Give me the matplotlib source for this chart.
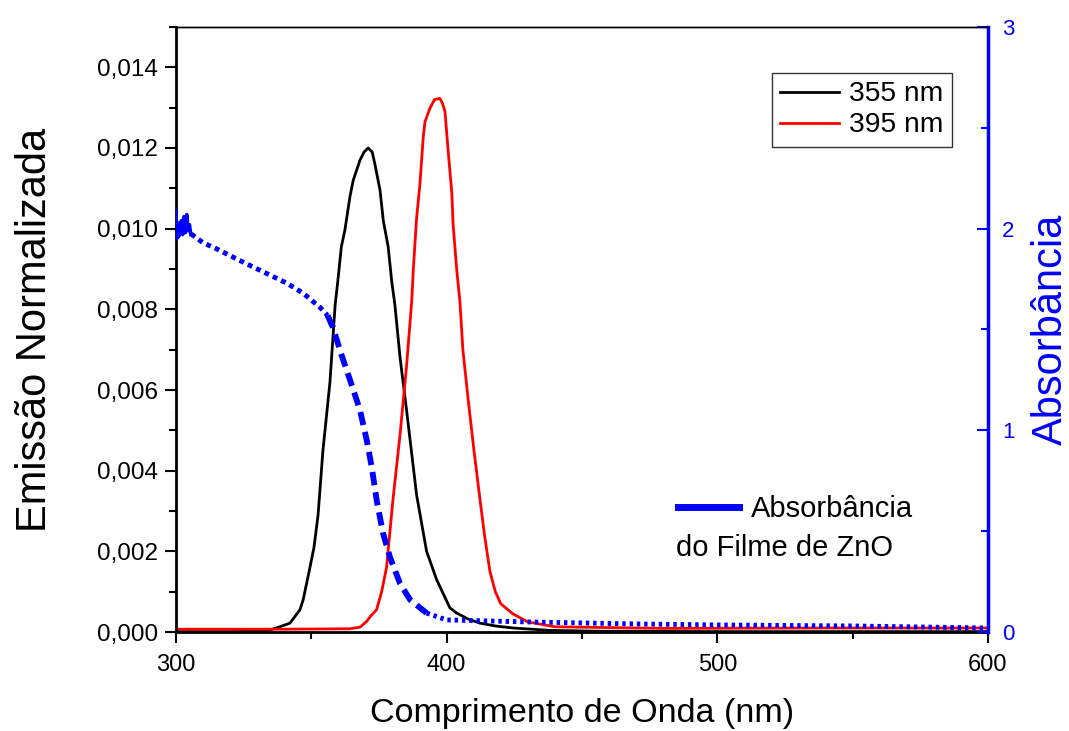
import numpy as np
import matplotlib.pyplot as plt
from matplotlib.lines import Line2D
from matplotlib.ticker import MultipleLocator, FuncFormatter

plt.rcParams['font.family'] = ['Liberation Sans', 'DejaVu Sans']

# emissão, excitação 355 nm
wl_355 = [300, 320, 330, 334.7, 338.4, 342.1, 345.8, 347.0, 349.5, 351.0, 352.5, 354.3,
          356.9, 358.8, 359.8, 361.1, 362.4, 364.3, 365.5, 368.0, 369.5, 371.0, 372.5,
          373.5, 375.4, 376.6, 378.4, 379.7, 380.9, 382.8, 385.2, 388.9, 392.6, 396.3,
          401.2, 403.7, 408.0, 412.3, 418.0, 424.5, 438.2, 456.6, 500, 600]
em_355 = [0.00001, 0.00001, 0.00002, 0.00005, 0.00013, 0.00022, 0.00055, 0.0008, 0.0016,
          0.0021, 0.0029, 0.0045, 0.0062, 0.0081, 0.0087, 0.00955, 0.00996, 0.0108,
          0.0112, 0.0117, 0.0119, 0.0120, 0.0119, 0.0116, 0.01095, 0.0102, 0.00955,
          0.0087, 0.0081, 0.0068, 0.0055, 0.0034, 0.0020, 0.0013, 0.0006, 0.00047,
          0.00032, 0.00022, 0.00015, 0.0001, 0.00004, 0.00002, 0.00001, 0.00001]

# emissão, excitação 395 nm
wl_395 = [300, 340, 364.0, 368.0, 370.4, 372.0, 374.1, 376.0, 377.8, 380.2, 382.8,
          385.2, 387.1, 387.7, 388.9, 390.1, 391.4, 392.0, 393.8, 395.5, 397.5, 398.5,
          399.4, 400.6, 401.9, 402.4, 403.7, 404.9, 406.0, 407.9, 410.1, 412.3, 414.0,
          416.0, 418.0, 420.0, 424.5, 430.0, 440.0, 480, 540, 600]
em_395 = [0.00007, 0.00007, 0.00008, 0.00012, 0.00026, 0.0004, 0.00055, 0.001, 0.0016,
          0.0033, 0.0049, 0.0066, 0.0082, 0.0090, 0.01026, 0.01108, 0.0123, 0.01265,
          0.01298, 0.0132, 0.01323, 0.0131, 0.0129, 0.0119, 0.0109, 0.0101, 0.0090,
          0.0082, 0.0070, 0.0058, 0.0045, 0.0033, 0.0024, 0.0015, 0.0010, 0.0007,
          0.00045, 0.00025, 0.00013, 0.00009, 0.0001, 0.0001]

# absorbância do filme de ZnO
wl_abs = [300.0, 300.3, 300.6, 301.0, 301.5, 302.0, 302.5, 303.0, 303.5, 304.0, 304.5, 305.0,
          305.5, 306, 308, 310, 315, 322.4, 328.5, 334.7, 340.9, 347, 353.2, 356, 358,
          361, 364.3, 368.0, 370.5, 372.3, 374.2, 376.5, 379.1, 382.8, 386.5, 392.6,
          400, 430, 470, 500, 550, 600]
absorb = [2.09, 1.95, 2.03, 1.96, 2.00, 2.04, 1.97, 2.06, 1.98, 2.07, 1.99, 2.02,
          1.97, 1.97, 1.95, 1.93, 1.90, 1.85, 1.81, 1.77, 1.73, 1.68, 1.61, 1.57, 1.51,
          1.38, 1.25, 1.10, 0.95, 0.82, 0.65, 0.49, 0.37, 0.24, 0.16, 0.094,
          0.06, 0.05, 0.04, 0.035, 0.03, 0.02]

wl_abs = np.array(wl_abs)
absorb = np.array(absorb)

fig = plt.figure(figsize=(10.69, 7.31), dpi=100)
ax = fig.add_axes([0.1646, 0.1354, 0.7596, 0.8277])
ax2 = ax.twinx()

l1, = ax.plot(wl_355, em_355, color='black', lw=2.0)
l2, = ax.plot(wl_395, em_395, color='red', lw=2.0)

# início ruidoso contínuo, parte íngreme com traços longos, resto pontilhado
noisy = wl_abs <= 305.5
flat1 = (wl_abs >= 305.5) & (wl_abs <= 356)
steep = (wl_abs >= 356) & (wl_abs <= 393)
flat2 = wl_abs >= 392.6
ax2.plot(wl_abs[noisy], absorb[noisy], color='blue', lw=2.5)
ax2.plot(wl_abs[flat1], absorb[flat1], color='blue', lw=3.5, ls=(0, (1.0, 0.9)))
ax2.plot(wl_abs[steep], absorb[steep], color='blue', lw=4.2, ls=(0, (2.3, 1.2)))
ax2.plot(wl_abs[flat2], absorb[flat2], color='blue', lw=3.5, ls=(0, (0.7, 0.8)))

ax.set_xlim(300, 600)
ax.set_ylim(0, 0.015)
ax2.set_ylim(0, 3)

ax.xaxis.set_major_locator(MultipleLocator(100))
ax.xaxis.set_minor_locator(MultipleLocator(50))
ax.yaxis.set_major_locator(MultipleLocator(0.002))
ax.yaxis.set_minor_locator(MultipleLocator(0.001))
ax.yaxis.set_major_formatter(FuncFormatter(lambda v, p: f'{v:.3f}'.replace('.', ',')))
ax2.yaxis.set_major_locator(MultipleLocator(1))
ax2.yaxis.set_minor_locator(MultipleLocator(0.5))

ax.tick_params(axis='x', which='major', direction='out', length=8, width=1.5, labelsize=17, pad=8)
ax.tick_params(axis='x', which='minor', direction='out', length=5, width=1.5)
ax.tick_params(axis='y', which='major', direction='out', length=8, width=1.5, labelsize=17.5, pad=5)
ax.tick_params(axis='y', which='minor', direction='out', length=5, width=1.5)
ax2.tick_params(axis='y', which='major', direction='in', length=8, width=1.5, labelsize=16,
                colors='blue', pad=10)
ax2.tick_params(axis='y', which='minor', direction='in', length=5, width=1.5, colors='blue')

for s in ['left', 'bottom']:
    ax.spines[s].set_linewidth(2)
ax.spines['top'].set_linewidth(1)
ax2.spines['right'].set_color('blue')
ax2.spines['right'].set_linewidth(2.5)
ax2.spines['left'].set_visible(False)
ax2.spines['top'].set_linewidth(1)
ax2.spines['bottom'].set_visible(False)

ax.set_xlabel('Comprimento de Onda (nm)', fontsize=24.5, labelpad=16)
ax.set_ylabel('Emissão Normalizada', fontsize=30, labelpad=30)
ax2.set_ylabel('Absorbância', fontsize=30, color='blue', labelpad=12)

leg = ax2.legend([l1, l2], ['355 nm', '395 nm'], loc='upper right',
                 bbox_to_anchor=(0.9557, 0.924), borderaxespad=0, fontsize=20.3,
                 handlelength=2.1, handletextpad=0.35, borderpad=0.3, labelspacing=0.18,
                 fancybox=False, edgecolor='#333333', framealpha=1)
leg.get_frame().set_linewidth(1)
ax2.add_artist(leg)

h = Line2D([], [], color='blue', lw=5)
ax2.legend([h], ['Absorbância'], loc='upper left', bbox_to_anchor=(0.618, 0.226),
           borderaxespad=0, frameon=False, fontsize=21, handlelength=2.1,
           handletextpad=0.4, borderpad=0)
ax2.text(0.6158, 0.139, 'do Filme de ZnO', transform=ax2.transAxes, fontsize=21,
         va='center', ha='left')

fig.savefig('out.png', dpi=100)
